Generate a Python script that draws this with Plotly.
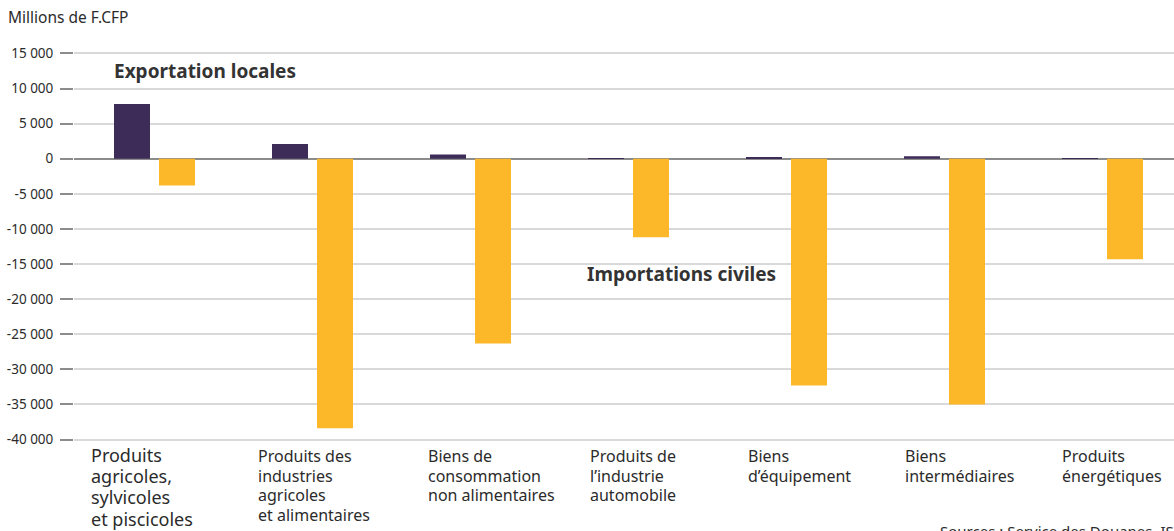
import plotly.graph_objects as go

categories = [
    "Produits agricoles, sylvicoles et piscicoles",
    "Produits des industries agricoles et alimentaires",
    "Biens de consommation non alimentaires",
    "Produits de l’industrie automobile",
    "Biens d’équipement",
    "Biens intermédiaires",
    "Produits énergétiques",
]
category_lines = [
    ["Produits", "agricoles,", "sylvicoles", "et piscicoles"],
    ["Produits des", "industries", "agricoles", "et alimentaires"],
    ["Biens de", "consommation", "non alimentaires"],
    ["Produits de", "l’industrie", "automobile"],
    ["Biens", "d’équipement"],
    ["Biens", "intermédiaires"],
    ["Produits", "énergétiques"],
]
exportations = [7800, 2100, 600, 100, 150, 350, 100]
importations = [-3800, -38400, -26300, -11200, -32300, -35000, -14300]
tick_vals = [15000, 10000, 5000, 0, -5000, -10000, -15000, -20000, -25000, -30000, -35000, -40000]
tick_text = ["15 000", "10 000", "5 000", "0", "-5 000", "-10 000", "-15 000", "-20 000",
             "-25 000", "-30 000", "-35 000", "-40 000"]

FONT = "Noto Sans"
DARK = "#3d2b58"
ORANGE = "#fdb82a"
TXT = "#2b2b2b"

xidx = list(range(len(categories)))
unit = 158.0
bw = 36 / unit

fig = go.Figure()
fig.add_trace(go.Bar(x=xidx, y=exportations, width=bw, offset=-40.5 / unit,
                     marker=dict(color=DARK, line=dict(width=0)), name="Exportation locales",
                     hovertext=categories))
fig.add_trace(go.Bar(x=xidx, y=importations, width=bw, offset=4.5 / unit,
                     marker=dict(color=ORANGE, line=dict(width=0)), name="Importations civiles",
                     hovertext=categories))

x0 = -80.5 / unit
fig.update_layout(
    width=1174, height=531,
    margin=dict(l=74, r=0, t=52, b=90),
    paper_bgcolor="white", plot_bgcolor="white",
    barmode="overlay", showlegend=False,
    font=dict(family=FONT, color=TXT),
    xaxis=dict(range=[x0, x0 + 1100 / unit], showticklabels=False, showgrid=False,
               zeroline=False, showline=False, ticks=""),
    yaxis=dict(range=[-40200, 15200], tickvals=tick_vals, ticktext=tick_text,
               showgrid=True, gridcolor="#d9d9d9", gridwidth=1.5,
               zeroline=True, zerolinecolor="#8c8c8c", zerolinewidth=2,
               ticks="outside", ticklen=13, tickcolor="#8c8c8c", tickwidth=1.5,
               ticklabelstandoff=4,
               tickfont=dict(size=13.5, color=TXT, family=FONT), showline=False),
)

# category labels (one annotation per line, left aligned)
shifts = [-65.5, -56.5, -44.5, -40.5, -40.5, -41.5, -42.5]
for i, (lines, sh) in enumerate(zip(category_lines, shifts)):
    if i == 0:
        fs, centers = 18, [455, 476, 497, 519]
    else:
        fs, centers = 16, [455.5, 475.5, 494.5, 514.5]
    for j, line in enumerate(lines):
        fig.add_annotation(x=i, xref="x", y=0, yref="paper", yshift=441 - centers[j],
                           xshift=sh, text=line, showarrow=False, xanchor="left",
                           yanchor="middle", align="left",
                           font=dict(size=fs, color=TXT, family=FONT))

fig.add_annotation(x=0, xref="x", xshift=-42.5, xanchor="left", y=0, yref="paper",
                   yshift=441 - 71, yanchor="middle", text="<b>Exportation locales</b>",
                   showarrow=False, font=dict(size=19, color="#333333", family=FONT))
fig.add_annotation(x=3, xref="x", xshift=-43.5, xanchor="left", y=0, yref="paper",
                   yshift=441 - 274, yanchor="middle", text="<b>Importations civiles</b>",
                   showarrow=False, font=dict(size=19, color="#333333", family=FONT))
fig.add_annotation(x=0, xref="paper", xshift=-68, xanchor="left", y=1, yref="paper",
                   yshift=35, yanchor="middle", text="Millions de F.CFP", showarrow=False,
                   font=dict(size=15.5, color=TXT, family=FONT))
fig.add_annotation(x=0, xref="paper", xshift=864, xanchor="left", y=0, yref="paper",
                   yshift=-78, yanchor="top", text="Sources : Service des Douanes, ISPF",
                   showarrow=False, font=dict(size=15, color=TXT, family=FONT))

fig.write_html("out.html")
